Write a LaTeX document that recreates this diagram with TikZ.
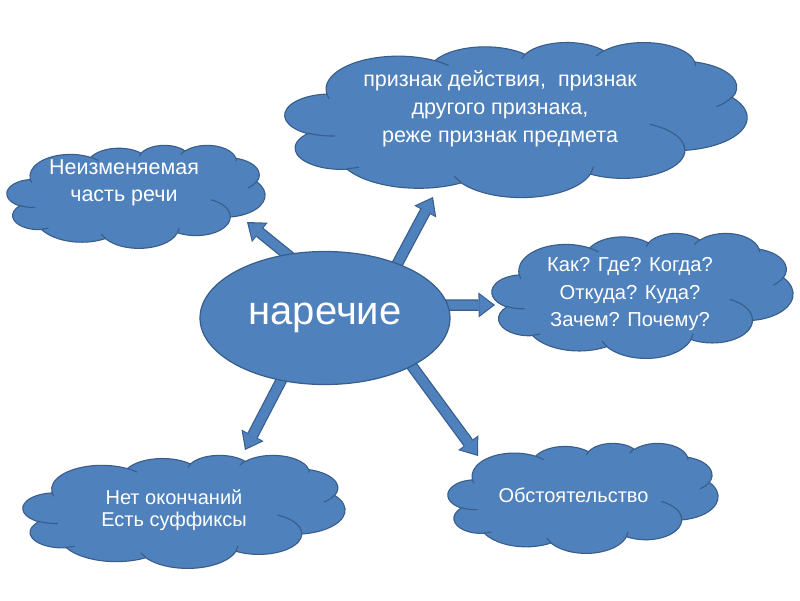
\documentclass[tikz,border=0pt]{standalone}
\usepackage{fontspec}
\setmainfont{Liberation Sans}
\usetikzlibrary{shapes.geometric,arrows.meta,backgrounds}
\definecolor{cfill}{HTML}{4F81BD}
\definecolor{cline}{HTML}{385D8A}
% one arc of the PowerPoint cloud outline (OOXML arcTo: visual angles)
\newcommand\pcArc[4]{%
  \pgfmathsetmacro\pcTs{atan2((#1)*sin(#3),(#2)*cos(#3))}%
  \pgfmathsetmacro\pcTe{atan2((#1)*sin((#3)+(#4)),(#2)*cos((#3)+(#4)))}%
  \pgfmathsetmacro\pcD{\pcTe-\pcTs}%
  \pgfmathsetmacro\pcD{\pcD-360*round((\pcD-(#4))/360)}%
  \pgfmathsetmacro\pcEnd{\pcTs+\pcD}%
  \pgfpatharc{\pcTs}{\pcEnd}{#1pt and #2pt}}
% cloud with top-left corner (#1,#2), width #3, height #4
\newcommand\pcCloud[4]{%
  \begin{scope}[shift={(#1,#2)}, xscale=#3/432, yscale=-#4/432]
    \pgfsetlinewidth{1.1pt}\pgfsetroundjoin
    \pgfsetfillcolor{cfill}\pgfsetstrokecolor{cline}
    \pgfpathmoveto{\pgfpoint{39pt}{143.7pt}}
    \pcArc{67.53}{91.90}{-190.48748}{123.78053}
    \pcArc{53.33}{72.67}{-144.10238}{89.94523}
    \pcArc{43.65}{59.45}{-145.80792}{99.72302}
    \pcArc{48.57}{65.95}{-130.98607}{117.24173}
    \pcArc{53.33}{72.73}{-78.70888}{109.02692}
    \pcArc{67.75}{92.20}{-46.26725}{130.26900}
    \pcArc{57.85}{78.67}{0.62502}{114.03333}
    \pcArc{67.52}{92.15}{22.45160}{115.17255}
    \pcArc{77.20}{105.43}{66.24263}{75.71102}
    \pcArc{43.60}{59.18}{-274.94208}{146.73557}
    \pcArc{43.45}{59.45}{-246.82850}{152.51885}
    \pgfpathclose
    \pgfusepath{fill,stroke}
    \pgfpathmoveto{\pgfpoint{46.93pt}{261.77pt}}\pcArc{43.45}{59.45}{86.74200}{26.42950}
    \pgfpathmoveto{\pgfpoint{69.28pt}{348.99pt}}\pcArc{43.60}{59.18}{73.61047}{11.44747}
    \pgfpathmoveto{\pgfpoint{164.78pt}{390.90pt}}\pcArc{67.52}{92.15}{137.62415}{14.08110}
    \pgfpathmoveto{\pgfpoint{288.27pt}{347.51pt}}\pcArc{67.52}{92.15}{6.45327}{15.99835}
    \pgfpathmoveto{\pgfpoint{341.29pt}{229.54pt}}\pcArc{57.85}{78.67}{-70.29235}{70.91737}
    \pgfpathmoveto{\pgfpoint{417.98pt}{153.54pt}}\pcArc{53.33}{72.73}{30.31803}{27.75150}
    \pgfpathmoveto{\pgfpoint{383.24pt}{54.26pt}}\pcArc{48.57}{65.95}{-13.74433}{14.85890}
    \pgfpathmoveto{\pgfpoint{290.78pt}{39.52pt}}\pcArc{48.57}{65.95}{-149.18145}{18.19537}
    \pgfpathmoveto{\pgfpoint{221.41pt}{47.20pt}}\pcArc{43.65}{59.45}{-163.49427}{17.68635}
    \pgfpathmoveto{\pgfpoint{140.00pt}{51.92pt}}\pcArc{67.53}{91.90}{-66.70695}{12.31935}
    \pgfpathmoveto{\pgfpoint{41.27pt}{157.89pt}}\pcArc{67.53}{91.90}{157.65435}{11.85817}
    \pgfusepath{stroke}
  \end{scope}}
\begin{document}
\begin{tikzpicture}[x=1pt,y=-1pt,
  txt/.style={text=white, align=center, inner sep=0pt},
  blk/.style={draw=cfill, line width=9pt, shorten <=-6pt, shorten >=2pt,
    -{Triangle[length=13.5pt,width=21pt,line width=0pt]},
    preaction={draw=cline, line width=11.5pt, shorten <=-6pt, shorten >=0pt,
      -{Triangle[length=16.5pt,width=25pt,line width=0pt]}}}
]
\useasboundingbox (0,0) rectangle (800,600);
\pcCloud{285}{42}{462}{155}
\pcCloud{7}{145}{258}{103}
\pcCloud{492}{233}{301}{125}
\pcCloud{23}{455}{322}{113}
\pcCloud{448}{443}{270}{110}
\node[ellipse, fill=cfill, draw=cline, line width=1.2pt, minimum width=250pt, minimum height=133pt, inner sep=0pt, text=white, font=\fontsize{40}{42}\selectfont] (nar) at (325,318) {наречие};

\node[txt, font=\fontsize{21.5}{28}\selectfont] (tT) at (500,109) {признак действия,\ \ признак\\другого признака,\\реже признак предмета};
\node[txt, font=\fontsize{21.5}{27.5}\selectfont] (tL) at (124,183) {Неизменяемая\\часть речи};
\node[txt, font=\fontsize{20.2}{27.5}\selectfont] (tR) at (630,294.5) {Как? Где? Когда?\\Откуда? Куда?\\Зачем? Почему?};
\node[txt, font=\fontsize{20}{22.5}\selectfont] (tBL) at (174,510) {Нет окончаний\\Есть суффиксы};
\node[txt, font=\fontsize{20}{22.5}\selectfont] (tBR) at (573.5,495) {Обстоятельство};

\coordinate (pL) at (247,222);
\coordinate (pT) at (433,197);
\coordinate (pR) at (495,305);
\coordinate (pBL) at (245,450);
\coordinate (pBR) at (478,456);
\begin{pgfonlayer}{background}
\fill[white] (0,0) rectangle (800,600);
\draw[blk] (nar.121) -- (pL);
\draw[blk] (nar.37) -- (pT);
\draw[blk] (nar.6) -- (pR);
\draw[blk] (nar.-125) -- (pBL);
\draw[blk] (nar.-29) -- (pBR);
\end{pgfonlayer}
\end{tikzpicture}
\end{document}
